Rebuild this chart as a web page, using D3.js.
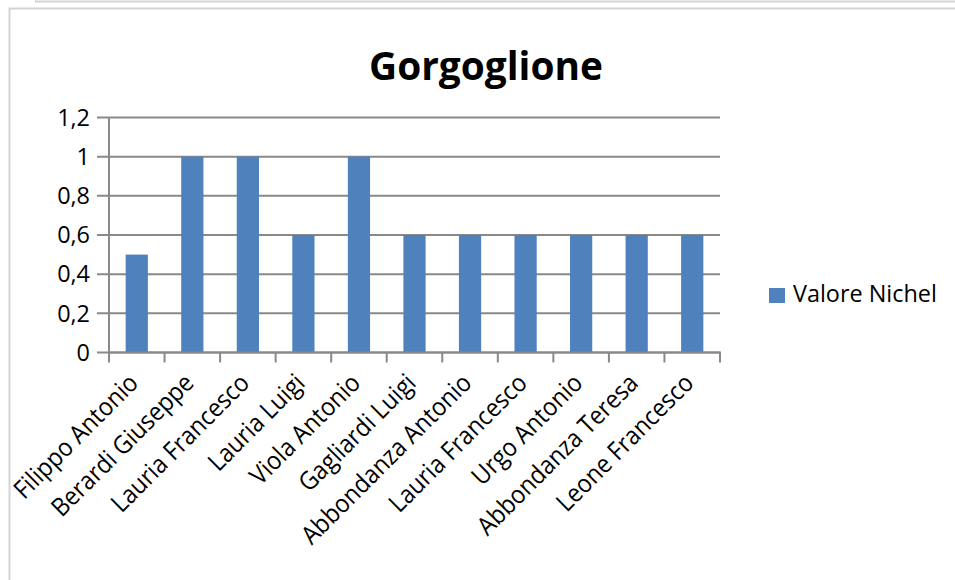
<!DOCTYPE html>
<html><head><meta charset="utf-8">
<script src="https://cdn.jsdelivr.net/npm/d3@7"></script>
<style>body{margin:0;background:#fff}svg{display:block}</style>
</head><body>
<script>
const title = "Gorgoglione";
const seriesName = "Valore Nichel";
const categories = ["Filippo Antonio","Berardi Giuseppe","Lauria Francesco","Lauria Luigi","Viola Antonio","Gagliardi Luigi","Abbondanza Antonio","Lauria Francesco ","Urgo Antonio","Abbondanza Teresa","Leone Francesco"];
const values = [0.5,1,1,0.6,1,0.6,0.6,0.6,0.6,0.6,0.6];
const yTicks = [0,0.2,0.4,0.6,0.8,1,1.2];
const yTickLabels = ["0","0,2","0,4","0,6","0,8","1","1,2"];

const W=955,H=580;
const FONT="'Open Sans', 'Liberation Sans', sans-serif";
const svg=d3.select("body").append("svg").attr("width",W).attr("height",H);

// frame
svg.append("line").attr("x1",35).attr("x2",W).attr("y1",1.5).attr("y2",1.5).attr("stroke","#d4d4d4").attr("stroke-width",2);
svg.append("line").attr("x1",35.5).attr("x2",35.5).attr("y1",0).attr("y2",3).attr("stroke","#d4d4d4").attr("stroke-width",1);
svg.append("path").attr("d",`M9.5,${H} V8.5 H${W}`).attr("fill","none").attr("stroke","#d4d4d4").attr("stroke-width",2);

const x=d3.scaleBand().domain(d3.range(categories.length)).range([109,720]).paddingInner(0.6).paddingOuter(0.3);
const y=d3.scaleLinear().domain([0,1.2]).range([352.5,117.5]);

// gridlines
const grid=svg.append("g");
yTicks.forEach(t=>{
  grid.append("line").attr("x1",97).attr("x2",720).attr("y1",y(t)).attr("y2",y(t)).attr("stroke","#898989").attr("stroke-width",2);
});

// bars
svg.append("g").selectAll("rect").data(values).join("rect")
  .attr("x",(d,i)=>x(i)).attr("width",x.bandwidth())
  .attr("y",d=>y(d)).attr("height",d=>y(0)-y(d)).attr("fill","#4F81BD");

// y axis
svg.append("line").attr("x1",109).attr("x2",109).attr("y1",y(1.2)).attr("y2",y(0)).attr("stroke","#898989").attr("stroke-width",2);
// x axis
const xa=d3.scaleLinear().domain([0,categories.length]).range([109,720]);
svg.append("line").attr("x1",108).attr("x2",721).attr("y1",y(0)).attr("y2",y(0)).attr("stroke","#898989").attr("stroke-width",2);
d3.range(categories.length+1).forEach(i=>{
  svg.append("line").attr("x1",xa(i)).attr("x2",xa(i)).attr("y1",y(0)).attr("y2",y(0)+10).attr("stroke","#898989").attr("stroke-width",2);
});

function fit(sel,target){
  const n=sel.node();const fs=parseFloat(sel.attr("font-size"));
  const w=n.getComputedTextLength();
  sel.attr("font-size",fs*target/w);
}

// y labels
const yl=svg.append("g").selectAll("text").data(yTicks).join("text")
  .attr("x",90).attr("y",d=>y(d)).attr("dy","0.35em").attr("text-anchor","end")
  .attr("font-family",FONT).attr("font-size",18).attr("fill","#000")
  .text((d,i)=>yTickLabels[i]);

// x labels
const xl=svg.append("g").selectAll("text").data(categories).join("text")
  .attr("text-anchor","end").attr("font-family",FONT).attr("font-size",18).attr("fill","#000")
  .attr("transform",(d,i)=>`translate(${x(i)+x.bandwidth()/2+3},${y(0)+32}) rotate(-45) scale(0.92,1)`)
  .text(d=>d.trim());

// title
const tt=svg.append("text").attr("x",486).attr("y",80).attr("text-anchor","middle")
  .attr("font-family",FONT).attr("font-weight","bold").attr("font-size",34).text(title);
fit(tt,234);

// legend
svg.append("rect").attr("x",769).attr("y",288).attr("width",16).attr("height",15).attr("fill","#4F81BD");
const lt=svg.append("text").attr("x",793).attr("y",302).attr("font-family",FONT).attr("font-size",18).text(seriesName);
fit(lt,144);
const fsL=parseFloat(lt.attr("font-size"));
yl.attr("font-size",fsL);
xl.attr("font-size",fsL*1.08);
</script>
</body></html>
